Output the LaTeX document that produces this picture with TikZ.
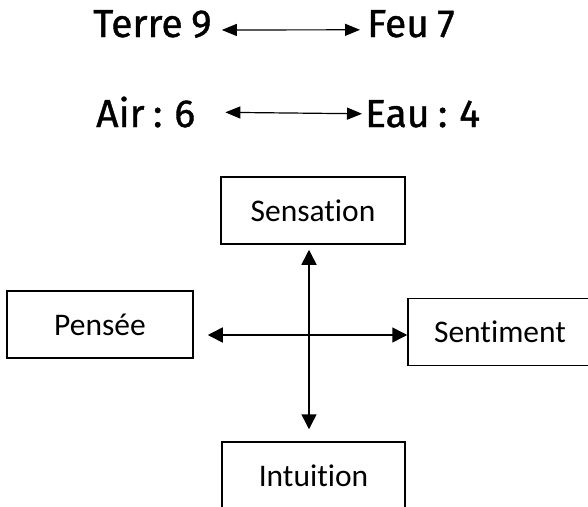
\documentclass[tikz,border=0pt]{standalone}
\usepackage{fontspec}
\setmainfont{Carlito}[Ligatures=NoCommon]
\newfontfamily\titre{Fira Sans}[FakeBold=1,WordSpace=0.82]
\usetikzlibrary{arrows.meta}

\begin{document}
\begin{tikzpicture}[x=1pt,y=-1pt,>={Triangle[length=15pt,width=15pt]},
	boite/.style={draw,line width=1.5pt,minimum height=67pt,inner sep=0pt,font=\fontsize{31.5}{36}\selectfont},
	elem/.style={anchor=base west,inner sep=0pt,font=\titre\fontsize{39}{44}\selectfont}]
	\clip (0,0) rectangle (588,506);
	% les elements
	\node[elem] (terre) at (93,37) {Terre 9};
	\node[elem] (feu) at (367,37) {Feu 7};
	\node[elem] (air) at (96,127) {Air : 6};
	\node[elem] (eau) at (365,127) {Eau : 4};
	\draw[<->,line width=1.2pt,>={Triangle[length=15pt,width=12pt]},shorten <=10pt,shorten >=7pt] ([yshift=-6pt]terre.east) -- ([yshift=-6pt]feu.west);
	\draw[<->,line width=1.2pt,>={Triangle[length=15pt,width=12pt]},shorten <=30pt,shorten >=3pt] (air.east) -- (eau.west);
	% les fonctions
	\node[boite,minimum width=184pt] (sensation) at (313,210.5) {Sensation};
	\node[boite,minimum width=186pt] (pensee) at (100,324.5) {Pensée};
	\node[boite,minimum width=184pt] (sentiment) at (500,332) {Sentiment};
	\node[boite,minimum width=183pt] (intuition) at (313.5,475.5) {Intuition};
	\coordinate (croix) at (309,335);
	\draw[<->,line width=1.5pt,shorten <=14pt] (pensee.east |- croix) -- (sentiment.west |- croix);
	\draw[<->,line width=1.5pt,shorten <=5pt,shorten >=12pt] (sensation.south -| croix) -- (intuition.north -| croix);
\end{tikzpicture}
\end{document}
